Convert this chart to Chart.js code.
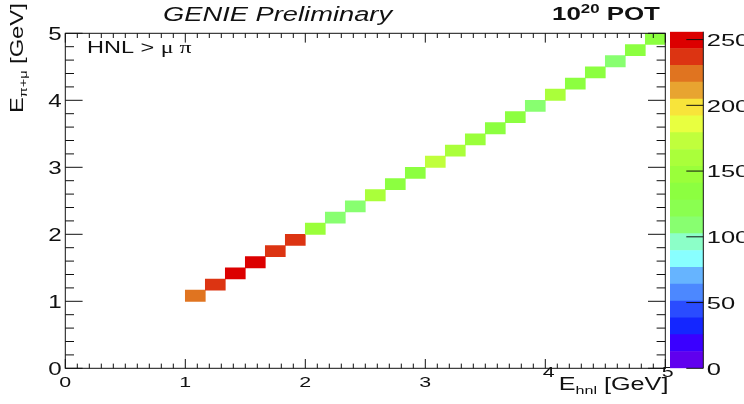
<!DOCTYPE html>
<html>
<head>
<meta charset="utf-8">
<title>HNL → μπ energy</title>
<script src="https://cdn.jsdelivr.net/npm/chart.js@4"></script>
<style>
  html, body { margin: 0; padding: 0; background: #fff; overflow: hidden; }
  #stage { position: relative; width: 744px; height: 404px; }
  #hist { position: absolute; left: 0; top: 0; }
  #zbar { position: absolute; left: 670px; top: 0; }
</style>
</head>
<body>
<div id="stage">
  <canvas id="hist" width="744" height="404"></canvas>
  <canvas id="zbar" width="74" height="404"></canvas>
</div>
<script>
// 30 x 30 bins over 0-5 GeV on both axes; only the diagonal is filled
const BIN_W = 1 / 6;

// lower edges of the filled bins
const eHnlEdges = [1.0000, 1.1667, 1.3333, 1.5000, 1.6667, 1.8333,
                   2.0000, 2.1667, 2.3333, 2.5000, 2.6667, 2.8333,
                   3.0000, 3.1667, 3.3333, 3.5000, 3.6667, 3.8333,
                   4.0000, 4.1667, 4.3333, 4.5000, 4.6667, 4.8333];
const eVisEdges = [1.0000, 1.1667, 1.3333, 1.5000, 1.6667, 1.8333,
                   2.0000, 2.1667, 2.3333, 2.5000, 2.6667, 2.8333,
                   3.0000, 3.1667, 3.3333, 3.5000, 3.6667, 3.8333,
                   4.0000, 4.1667, 4.3333, 4.5000, 4.6667, 4.8333];
const counts = [224, 238, 256, 249, 237, 235,
                147, 110, 112, 158, 134, 136,
                171, 160, 147, 133, 135, 109,
                157, 134, 132, 111, 135, 133];

const axisTicks = [0, 1, 2, 3, 4, 5];
const zTicks = [0, 50, 100, 150, 200, 250];

// 20 contour colours, low to high
const PALETTE = [
  '#6000ee', '#3a00ff', '#1426ff', '#2a4cff', '#4c88ff',
  '#66b4ff', '#88ffff', '#8cffc8', '#88ff70', '#8aff50',
  '#8cff40', '#9aff3a', '#aaff3a', '#c0ff3c', '#e8ff40',
  '#f8e43a', '#e8a430', '#e07420', '#dc3412', '#dc0000',
];

const zMax = Math.max(...counts);
const FONT = "'Liberation Sans', Arial, Helvetica, sans-serif";
const SERIF = "'Liberation Serif', 'Times New Roman', serif";
const INK = '#111';

// glyphs are drawn a little wider than the font's own metrics
const LABEL_STRETCH = 1.38;
const TEXT_STRETCH = 1.4;

function paletteColor(v) {
  const i = Math.floor(v / zMax * PALETTE.length);
  return PALETTE[Math.min(PALETTE.length - 1, i)];
}

// draw a row of text pieces (for sub/superscripts), widened along the text
function drawRuns(ctx, runs, x, y, stretch = 1, angle = 0) {
  ctx.save();
  ctx.translate(x, y);
  if (angle) ctx.rotate(angle);
  ctx.scale(stretch, 1);
  ctx.fillStyle = INK;
  ctx.textBaseline = 'alphabetic';
  let cx = 0;
  runs.forEach(r => {
    ctx.font = r.font;
    ctx.fillText(r.text, cx, r.dy || 0);
    cx += ctx.measureText(r.text).width;
  });
  ctx.restore();
}

function drawLabel(ctx, text, x, y, font, align, stretch) {
  ctx.save();
  ctx.font = font;
  const w = ctx.measureText(text).width * stretch;
  ctx.restore();
  const left = align === 'right' ? x - w : align === 'center' ? x - w / 2 : x;
  drawRuns(ctx, [{ text, font }], left, y, stretch);
}

// ROOT-style frame: ticks on all four sides, pointing inwards
const histFrame = {
  id: 'histFrame',
  afterDraw(chart) {
    const { ctx, chartArea: a, scales: { x, y } } = chart;
    ctx.save();
    ctx.strokeStyle = INK;
    ctx.lineWidth = 1;
    ctx.strokeRect(a.left, a.top, a.right - a.left, a.bottom - a.top);
    ctx.beginPath();
    for (let k = 0; k <= 50; k++) {
      const px = x.getPixelForValue(k / 10);
      const len = k % 10 === 0 ? 9.3 : 4.7;
      ctx.moveTo(px, a.bottom); ctx.lineTo(px, a.bottom - len);
      ctx.moveTo(px, a.top); ctx.lineTo(px, a.top + len);
    }
    for (let k = 0; k <= 25; k++) {
      const py = y.getPixelForValue(k / 5);
      const len = k % 5 === 0 ? 17.3 : 8.7;
      ctx.moveTo(a.left, py); ctx.lineTo(a.left + len, py);
      ctx.moveTo(a.right, py); ctx.lineTo(a.right - len, py);
    }
    ctx.stroke();
    ctx.restore();

    // tick labels
    axisTicks.forEach(v => {
      drawLabel(ctx, String(v), a.left - 3.5, y.getPixelForValue(v) + 6.3,
                `17.5px ${FONT}`, 'right', LABEL_STRETCH);
    });
    axisTicks.forEach(v => {
      // the last two are lifted clear of the axis title
      const lift = v >= 4 ? 9.5 : 0;
      const nudge = v === 4 ? 3.4 : v === 5 ? 2.4 : 0;
      drawLabel(ctx, String(v), x.getPixelForValue(v) + nudge, 386.5 - lift,
                `15.5px ${FONT}`, 'center', LABEL_STRETCH);
    });

    // titles
    drawRuns(ctx, [{ text: 'GENIE Preliminary', font: `italic 19.5px ${FONT}` }],
             163, 20.7, TEXT_STRETCH);
    drawRuns(ctx, [
      { text: '10', font: `bold 18.5px ${FONT}` },
      { text: '20', font: `bold 12px ${FONT}`, dy: -7 },
      { text: ' POT', font: `bold 18.5px ${FONT}` },
    ], 552, 20, TEXT_STRETCH);
    drawRuns(ctx, [
      { text: 'HNL > ', font: `16.8px ${FONT}` },
      { text: 'μ π', font: `17px ${SERIF}` },
    ], 87, 53, TEXT_STRETCH);
    drawRuns(ctx, [
      { text: 'E', font: `18px ${FONT}` },
      { text: 'hnl', font: `11.5px ${FONT}`, dy: 4 },
      { text: ' [GeV]', font: `18px ${FONT}` },
    ], 558.7, 390, TEXT_STRETCH);
    drawRuns(ctx, [
      { text: 'E', font: `19px ${FONT}` },
      { text: 'π+μ', font: `11.5px ${FONT}`, dy: 4.5 },
      { text: ' [GeV]', font: `19px ${FONT}` },
    ], 22.7, 113, 1.25, -Math.PI / 2);
  },
};

const zAxis = {
  id: 'zAxis',
  afterDraw(chart) {
    const { ctx, chartArea: a, scales: { y } } = chart;
    ctx.save();
    ctx.strokeStyle = INK;
    ctx.lineWidth = 1;
    ctx.beginPath();
    ctx.moveTo(a.right, a.top); ctx.lineTo(a.right, a.bottom);
    zTicks.forEach(v => {
      const py = y.getPixelForValue(v);
      ctx.moveTo(a.right, py); ctx.lineTo(a.right - 17, py);
    });
    ctx.stroke();
    ctx.restore();
    zTicks.forEach(v => {
      drawLabel(ctx, String(v), a.right + 3.4, y.getPixelForValue(v) + 6.3,
                `17px ${FONT}`, 'left', 1.5);
    });
  },
};

const baseOptions = {
  responsive: false,
  animation: false,
  devicePixelRatio: 1,
  plugins: { legend: { display: false }, tooltip: { enabled: false } },
};

new Chart(document.getElementById('hist'), {
  type: 'bar',
  data: {
    datasets: [{
      data: eHnlEdges.map((e, i) => ({
        x: e + BIN_W / 2,
        y: [eVisEdges[i], eVisEdges[i] + BIN_W],
      })),
      backgroundColor: counts.map(paletteColor),
      borderWidth: 0,
      barPercentage: 1,
      categoryPercentage: 1,
    }],
  },
  options: {
    ...baseOptions,
    layout: { padding: { left: 0, right: 78.7, top: 33.3, bottom: 0 } },
    scales: {
      x: {
        type: 'linear', min: 0, max: 5, offset: false,
        grid: { display: false, offset: false }, border: { display: false },
        ticks: { display: false, stepSize: 1 },
        afterFit: s => { s.height = 35.7; },
      },
      y: {
        type: 'linear', min: 0, max: 5,
        grid: { display: false }, border: { display: false },
        ticks: { display: false, stepSize: 1 },
        afterFit: s => { s.width = 65.3; },
      },
    },
  },
  plugins: [histFrame],
});

new Chart(document.getElementById('zbar'), {
  type: 'bar',
  data: {
    labels: ['z'],
    datasets: PALETTE.map(c => ({
      data: [zMax / PALETTE.length],
      backgroundColor: c,
      borderWidth: 0,
      barPercentage: 1,
      categoryPercentage: 1,
    })),
  },
  options: {
    ...baseOptions,
    layout: { padding: { left: 0, right: 0, top: 31.7, bottom: 35.7 } },
    scales: {
      x: { display: false, stacked: true },
      y: {
        stacked: true, min: 0, max: zMax, position: 'right',
        grid: { display: false }, border: { display: false },
        ticks: { display: false, stepSize: 50, includeBounds: false },
        afterFit: s => { s.width = 40.7; },
      },
    },
  },
  plugins: [zAxis],
});
</script>
</body>
</html>
